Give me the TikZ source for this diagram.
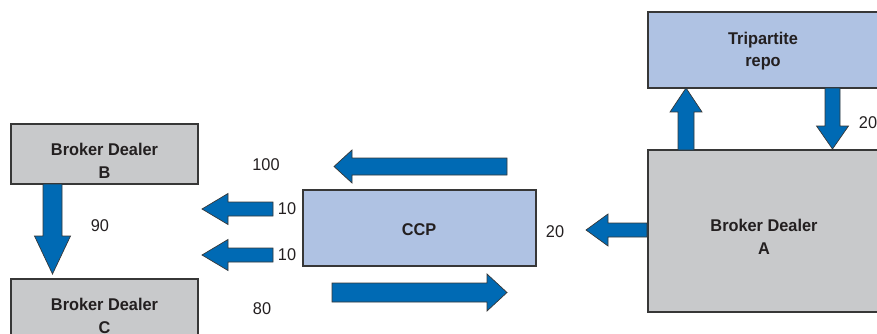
\documentclass[tikz,border=0pt]{standalone}
\usepackage{fontspec}
\setmainfont{Liberation Sans}[FakeStretch=0.96]
\definecolor{arrblue}{RGB}{0,106,180}
\definecolor{boxblue}{RGB}{175,194,227}
\definecolor{boxgray}{RGB}{200,201,203}
\definecolor{edgegray}{RGB}{55,55,55}
\definecolor{txt}{RGB}{35,31,32}
\newcommand\harr[6]{\draw[fatarr] ({#1},{#4-#5}) -- ({#2},{#4-#5}) -- ({#2},{#4-#6}) -- ({#3},{#4}) -- ({#2},{#4+#6}) -- ({#2},{#4+#5}) -- ({#1},{#4+#5}) -- cycle;}
\newcommand\varr[6]{\draw[fatarr] ({#4-#5},{#1}) -- ({#4-#5},{#2}) -- ({#4-#6},{#2}) -- ({#4},{#3}) -- ({#4+#6},{#2}) -- ({#4+#5},{#2}) -- ({#4+#5},{#1}) -- cycle;}
\begin{document}
\begin{tikzpicture}[x=1pt,y=-1pt,
  fatarr/.style={fill=arrblue,draw=edgegray,line width=0.7pt,line join=miter},
  boxstyle/.style={draw=edgegray,line width=1.1pt},
  lbl/.style={font=\fontsize{17}{22.5}\selectfont\bfseries,text=txt,align=center,inner sep=0pt},
  num/.style={font=\fontsize{17}{20}\selectfont,text=txt,inner sep=0pt}]
\useasboundingbox (0,0) rectangle (877,334);
\clip (0,0) rectangle (877,334);
% boxes
\draw[boxstyle,fill=boxgray] (11,124) rectangle (198,184);
\node[lbl] (B) at (104.5,161) {Broker Dealer\\B};
\draw[boxstyle,fill=boxgray] (11,279) rectangle (198,345);
\node[lbl] (C) at (104.5,316) {Broker Dealer\\C};
\draw[boxstyle,fill=boxblue] (303,190) rectangle (536,266);
\node[lbl] (CCP) at (419,230) {CCP};
\draw[boxstyle,fill=boxblue] (648,12) rectangle (882,88);
\node[lbl] (T) at (763,51) {Tripartite\\repo};
\draw[boxstyle,fill=boxgray] (648,150) rectangle (882,312);
\node[lbl] (A) at (764,237) {Broker Dealer\\A};
% arrows
\harr{507}{352}{334}{166.5}{8.5}{16.5}
\harr{273}{228}{202}{209}{7}{15.5}
\harr{273}{228}{202}{255}{7}{15.5}
\harr{332}{487}{507}{292.5}{9.5}{18.5}
\harr{647}{608}{586}{230}{7}{16}
\varr{184}{236}{274}{52.5}{9.5}{18}
\varr{150}{112}{88}{686}{8}{16}
\varr{88}{126}{149}{832.5}{7.5}{16}
% numbers
\node[num] (n100) at (266,165) {100};
\node[num] (n10a) at (287,209) {10};
\node[num] (n10b) at (287,255) {10};
\node[num] (n90) at (100,226) {90};
\node[num] (n80) at (262,309) {80};
\node[num] (n20a) at (555,232) {20};
\node[num] (n20b) at (868,123) {20};
\end{tikzpicture}
\end{document}
